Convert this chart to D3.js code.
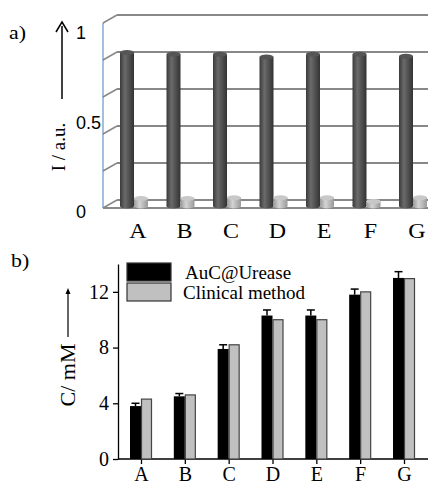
<!DOCTYPE html>
<html>
<head>
<meta charset="utf-8">
<script src="https://cdn.jsdelivr.net/npm/d3@7/dist/d3.min.js"></script>
<style>
    body { margin: 0; padding: 0; background: #fff; }
    svg { display: block; }
</style>
</head>
<body>
<script>
// data
const categories = ['A', 'B', 'C', 'D', 'E', 'F', 'G'];
// panel a: intensity (dark = high, light = low)
const intensityHigh = [0.83, 0.82, 0.82, 0.805, 0.82, 0.82, 0.81];
const intensityLow = [0.04, 0.04, 0.045, 0.045, 0.045, 0.025, 0.045];
const ticksA = [0, 0.5, 1];
// panel b: concentration
const aucUrease = [3.8, 4.5, 7.9, 10.3, 10.3, 11.8, 13.0];
const aucError = [0.2, 0.2, 0.3, 0.4, 0.4, 0.4, 0.45];
const clinical = [4.3, 4.6, 8.2, 10.0, 10.0, 12.0, 12.95];
const ticksB = [0, 4, 8, 12];
const legendNames = ['AuC@Urease', 'Clinical method'];

const width = 428, height = 485;
const serif = '"Liberation Serif", "Times New Roman", serif';
const sans = '"Liberation Sans", Arial, sans-serif';

const svg = d3.select('body').append('svg')
    .attr('width', width)
    .attr('height', height);

const defs = svg.append('defs');
function cylGrad(id, stops) {
    const g = defs.append('linearGradient').attr('id', id)
        .attr('x1', '0%').attr('x2', '100%').attr('y1', '0%').attr('y2', '0%');
    stops.forEach(([o, c]) => g.append('stop').attr('offset', o).attr('stop-color', c));
}
cylGrad('darkCyl', [['0%', '#3a3a3a'], ['35%', '#6a6a6a'], ['100%', '#333']]);
cylGrad('lightCyl', [['0%', '#9a9a9a'], ['40%', '#d4d4d4'], ['100%', '#999']]);

// ---------- panel a ----------
const a = svg.append('g');
const yBack = d3.scaleLinear().domain([0, 1]).range([200, 15]);
const yBar = d3.scaleLinear().domain([0, 1]).range([206, 21]);
const yLab = d3.scaleLinear().domain([0, 1]).range([212, 33]);
const xA = d3.scalePoint().domain(categories).range([134, 413]);
const depth = { dx: 14, dy: 8 };
const wallX = 103;

const gridVals = d3.range(0, 1.0001, 0.2);
a.selectAll('line.grid')
    .data(gridVals)
    .join('line')
    .attr('x1', wallX + depth.dx).attr('x2', width)
    .attr('y1', d => yBack(d)).attr('y2', d => yBack(d))
    .attr('stroke', '#888').attr('stroke-width', 2);
a.selectAll('line.diag')
    .data(gridVals)
    .join('line')
    .attr('x1', wallX).attr('x2', wallX + depth.dx)
    .attr('y1', d => yBack(d) + depth.dy).attr('y2', d => yBack(d))
    .attr('stroke', '#888').attr('stroke-width', 1.5);
// front floor edge
a.append('line')
    .attr('x1', wallX).attr('x2', width)
    .attr('y1', yBack(0) + depth.dy).attr('y2', yBack(0) + depth.dy)
    .attr('stroke', '#888').attr('stroke-width', 2);
// left wall edge
a.append('line')
    .attr('x1', wallX).attr('x2', wallX)
    .attr('y1', yBack(1) + depth.dy).attr('y2', yBack(0) + depth.dy)
    .attr('stroke', '#4a7ebb').attr('stroke-width', 1);

const bw = 14;
function cylinders(values, offset, grad, topFill) {
    const g = a.append('g');
    const items = values.map((v, i) => ({ v, x: xA(categories[i]) + offset }));
    g.selectAll('ellipse.bottom').data(items).join('ellipse')
        .attr('cx', d => d.x + bw / 2).attr('cy', yBar(0))
        .attr('rx', bw / 2).attr('ry', 2.5)
        .attr('fill', `url(#${grad})`);
    g.selectAll('rect').data(items).join('rect')
        .attr('x', d => d.x).attr('width', bw)
        .attr('y', d => yBar(d.v)).attr('height', d => yBar(0) - yBar(d.v))
        .attr('fill', `url(#${grad})`);
    g.selectAll('ellipse.top').data(items).join('ellipse')
        .attr('cx', d => d.x + bw / 2).attr('cy', d => yBar(d.v))
        .attr('rx', bw / 2).attr('ry', 2.5)
        .attr('fill', topFill);
}
cylinders(intensityHigh, -bw, 'darkCyl', '#555');
cylinders(intensityLow, 0, 'lightCyl', '#c8c8c8');

a.selectAll('text.tick')
    .data(ticksA)
    .join('text')
    .attr('x', 76).attr('y', d => yLab(d))
    .attr('dy', '0.35em')
    .attr('font-family', sans).attr('font-size', 18)
    .text(d => d);

a.selectAll('text.cat')
    .data(categories)
    .join('text')
    .attr('transform', d => `translate(${xA(d) + 4},238) scale(1.2,1)`)
    .attr('text-anchor', 'middle')
    .attr('font-family', serif).attr('font-size', 20)
    .text(d => d);

a.append('text').attr('transform', 'translate(9,39) scale(1.15,1)')
    .attr('font-family', serif).attr('font-size', 19).text('a)');

// arrow + axis title
a.append('line').attr('x1', 62).attr('x2', 62).attr('y1', 99).attr('y2', 26)
    .attr('stroke', '#000').attr('stroke-width', 1.5);
a.append('path').attr('d', 'M56,32 L62,22 L68,32').attr('fill', 'none')
    .attr('stroke', '#000').attr('stroke-width', 1.5);
a.append('text')
    .attr('transform', 'translate(65,147) rotate(-90)')
    .attr('text-anchor', 'middle')
    .attr('font-family', serif).attr('font-size', 19)
    .text('I / a.u.');

// ---------- panel b ----------
const b = svg.append('g');
const yB = d3.scaleLinear().domain([0, 14]).range([459, 264]);
const xB = d3.scalePoint().domain(categories).range([141, 404]);
const axisX = 118;
const bbw = 11;

b.append('g')
    .attr('transform', `translate(${axisX},0)`)
    .call(d3.axisLeft(yB).tickValues(ticksB).tickSize(5).tickPadding(4).tickSizeOuter(0))
    .call(g => g.select('.domain').attr('stroke-width', 1.3))
    .call(g => g.selectAll('.tick line').attr('stroke-width', 1.3))
    .call(g => g.selectAll('text').attr('font-family', serif).attr('font-size', 20).attr('fill', '#000'));

b.append('g')
    .attr('transform', `translate(0,${yB(0)})`)
    .call(d3.axisBottom(xB).tickSize(5).tickPadding(3).tickSizeOuter(0))
    .call(g => g.select('.domain').attr('d', `M${axisX},0H${width}`).attr('stroke-width', 1.3))
    .call(g => g.selectAll('.tick line').attr('stroke-width', 1.3))
    .call(g => g.selectAll('text').attr('font-family', serif).attr('font-size', 20).attr('fill', '#000'));

b.selectAll('rect.auc')
    .data(aucUrease)
    .join('rect')
    .attr('x', (d, i) => xB(categories[i]) - bbw)
    .attr('width', bbw)
    .attr('y', d => yB(d))
    .attr('height', d => yB(0) - yB(d))
    .attr('fill', '#000');

b.selectAll('rect.clin')
    .data(clinical)
    .join('rect')
    .attr('x', (d, i) => xB(categories[i]) + 0.5)
    .attr('width', bbw - 1)
    .attr('y', d => yB(d))
    .attr('height', d => yB(0) - yB(d))
    .attr('fill', '#c0c0c0').attr('stroke', '#444').attr('stroke-width', 1.2);

const err = b.selectAll('g.err')
    .data(aucUrease)
    .join('g');
err.append('line')
    .attr('x1', (d, i) => xB(categories[i]) - bbw / 2)
    .attr('x2', (d, i) => xB(categories[i]) - bbw / 2)
    .attr('y1', d => yB(d))
    .attr('y2', (d, i) => yB(d + aucError[i]))
    .attr('stroke', '#000').attr('stroke-width', 1.5);
err.append('line')
    .attr('x1', (d, i) => xB(categories[i]) - bbw / 2 - 4)
    .attr('x2', (d, i) => xB(categories[i]) - bbw / 2 + 4)
    .attr('y1', (d, i) => yB(d + aucError[i]))
    .attr('y2', (d, i) => yB(d + aucError[i]))
    .attr('stroke', '#000').attr('stroke-width', 1.5);

// legend
const legend = b.selectAll('g.legend')
    .data(legendNames)
    .join('g')
    .attr('transform', (d, i) => `translate(127,${263 + i * 20})`);
legend.append('rect')
    .attr('width', 44).attr('height', 18)
    .attr('fill', (d, i) => i === 0 ? '#000' : '#c0c0c0')
    .attr('stroke', '#333').attr('stroke-width', 1.2);
legend.append('text')
    .attr('x', (d, i) => i === 0 ? 58 : 56).attr('y', 9).attr('dy', '0.35em')
    .attr('font-family', serif).attr('font-size', 19)
    .text(d => d);

b.append('text').attr('transform', 'translate(11,267) scale(1.15,1)')
    .attr('font-family', serif).attr('font-size', 19).text('b)');

// arrow + axis title
b.append('line').attr('x1', 68).attr('x2', 68).attr('y1', 337).attr('y2', 293)
    .attr('stroke', '#000').attr('stroke-width', 1.2);
b.append('path').attr('d', 'M65.5,294 L68,288 L70.5,294 Z').attr('fill', '#000');
b.append('text')
    .attr('transform', 'translate(75,375) rotate(-90)')
    .attr('text-anchor', 'middle')
    .attr('font-family', serif).attr('font-size', 22)
    .text('C/ mM');
</script>
</body>
</html>
